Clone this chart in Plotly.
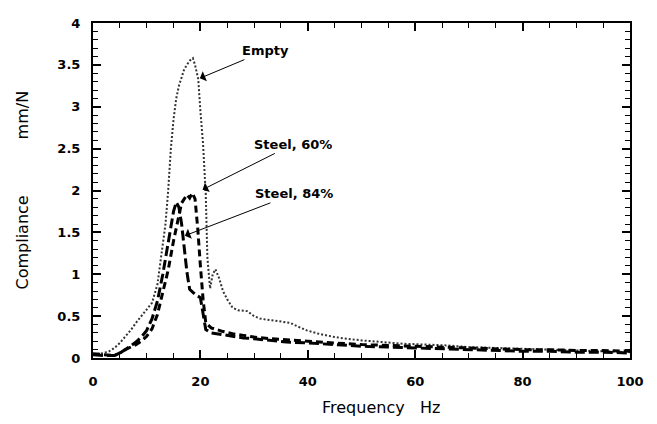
import plotly.graph_objects as go

# Empty
f_empty = [0, 1, 2, 3, 4, 5, 6, 7, 8, 9, 10, 11, 12, 12.5, 13, 13.5, 14, 14.5, 15, 15.5, 16, 17, 18, 18.6, 19, 19.6,
           20, 20.5, 21, 21.3, 21.8, 22.3, 22.8, 23.5, 24.2, 25, 26, 27, 28.7, 30, 31.1, 33, 35, 36.7, 38, 39.8,
           42, 45, 47.3, 50, 54, 57.7, 62, 66, 70, 75, 80, 85, 90, 95, 100]
v_empty = [0.04, 0.05, 0.06, 0.08, 0.12, 0.18, 0.25, 0.33, 0.42, 0.5, 0.58, 0.66, 0.88, 1.1, 1.35, 1.6, 2.0, 2.5,
           2.85, 3.1, 3.25, 3.45, 3.55, 3.58, 3.5, 3.33, 2.95, 2.55, 1.95, 1.2, 0.83, 1.0, 1.06, 0.95, 0.8, 0.7,
           0.6, 0.57, 0.56, 0.5, 0.47, 0.45, 0.43, 0.42, 0.38, 0.33, 0.29, 0.25, 0.23, 0.21, 0.19, 0.17, 0.16,
           0.15, 0.13, 0.12, 0.11, 0.1, 0.09, 0.08, 0.07]

# Steel, 60%
f_s60 = [0, 2, 4, 5, 6, 8, 9, 10, 11, 12, 13, 14, 15, 16, 16.5, 17, 17.5, 18, 18.5, 19, 19.5, 20, 20.5, 21, 22, 24,
         26, 28, 30, 33, 36, 40, 45, 50, 55, 60, 65, 70, 75, 80, 85, 90, 95, 100]
v_s60 = [0.05, 0.04, 0.03, 0.06, 0.1, 0.16, 0.2, 0.26, 0.35, 0.52, 0.78, 1.05, 1.4, 1.72, 1.85, 1.9, 1.95, 1.91,
         1.97, 1.9, 1.55, 1.1, 0.7, 0.42, 0.36, 0.32, 0.29, 0.27, 0.25, 0.23, 0.22, 0.2, 0.18, 0.16, 0.15, 0.14,
         0.13, 0.12, 0.11, 0.1, 0.1, 0.09, 0.09, 0.08]

# Steel, 84%
f_s84 = [0, 2, 4, 5, 6, 8, 9, 10, 11, 12, 13, 14, 15, 15.5, 16, 16.5, 17, 17.5, 18, 19, 20, 20.5, 21, 22, 24,
         26, 28, 30, 33, 36, 40, 45, 50, 55, 60, 65, 70, 75, 80, 85, 90, 95, 100]
v_s84 = [0.04, 0.03, 0.03, 0.06, 0.1, 0.19, 0.25, 0.33, 0.47, 0.68, 1.0, 1.38, 1.75, 1.86, 1.8, 1.6, 1.3, 1.02,
         0.82, 0.76, 0.72, 0.55, 0.34, 0.3, 0.28, 0.26, 0.24, 0.23, 0.21, 0.19, 0.18, 0.16, 0.14, 0.13, 0.12,
         0.11, 0.1, 0.09, 0.08, 0.08, 0.07, 0.07, 0.06]

x_ticks = [0, 20, 40, 60, 80, 100]
y_ticks = [0, 0.5, 1, 1.5, 2, 2.5, 3, 3.5, 4]
y_tick_text = ["0", "0.5", "1", "1.5", "2", "2.5", "3", "3.5", "4"]

font = "DejaVu Sans, Arial, sans-serif"

fig = go.Figure()
fig.add_trace(go.Scatter(x=f_empty, y=v_empty, mode="lines", name="Empty",
                         line=dict(color="#333333", width=2, dash="2px,2px")))
fig.add_trace(go.Scatter(x=f_s60, y=v_s60, mode="lines", name="Steel, 60%",
                         line=dict(color="black", width=3, dash="7px,4px")))
fig.add_trace(go.Scatter(x=f_s84, y=v_s84, mode="lines", name="Steel, 84%",
                         line=dict(color="black", width=3, dash="10px,4px")))

annots = [
    ("Empty", 19.9, 3.34, 32.2, 3.67),
    ("Steel, 60%", 20.4, 2.01, 37.2, 2.55),
    ("Steel, 84%", 17.1, 1.46, 37.4, 1.96),
]
for text, x, y, ax, ay in annots:
    fig.add_annotation(x=x, y=y, ax=ax, ay=ay, xref="x", yref="y", axref="x", ayref="y",
                       text=text, showarrow=True, arrowhead=1, arrowsize=1.8, arrowwidth=1,
                       arrowcolor="black", font=dict(family=font, size=13, color="black", weight="bold"))

# axis titles as annotations
fig.add_annotation(text="Frequency&nbsp;&nbsp;&nbsp;Hz", xref="paper", yref="paper", x=0.536, y=0,
                   yanchor="middle", yshift=-49, showarrow=False,
                   font=dict(family=font, size=16, color="black"))
fig.add_annotation(text="Compliance" + "&nbsp;" * 11 + "mm/N", xref="paper", yref="paper", x=0, y=0.5,
                   xanchor="center", xshift=-71, textangle=-90, showarrow=False,
                   font=dict(family=font, size=16, color="black"))

axis_common = dict(showline=True, linecolor="black", linewidth=2, mirror="ticks",
                   ticks="inside", tickcolor="black", tickwidth=1.6, ticklen=8,
                   showgrid=False, zeroline=False,
                   tickfont=dict(family=font, size=13, color="black", weight="bold"))

fig.update_xaxes(range=[0, 100], tickvals=x_ticks, ticktext=[str(v) for v in x_ticks],
                 minor=dict(dtick=5, ticks="inside", ticklen=5, tickcolor="black", tickwidth=1.2),
                 ticklabelstandoff=10, **axis_common)
fig.update_yaxes(range=[0, 4], tickvals=y_ticks, ticktext=y_tick_text,
                 minor=dict(dtick=0.1, ticks="inside", ticklen=5, tickcolor="black", tickwidth=1.2),
                 ticklabelstandoff=8, **axis_common)

fig.update_layout(width=657, height=424, margin=dict(l=85, r=35, t=8, b=74),
                  paper_bgcolor="white", plot_bgcolor="white", showlegend=False)

fig.write_html("out.html")
